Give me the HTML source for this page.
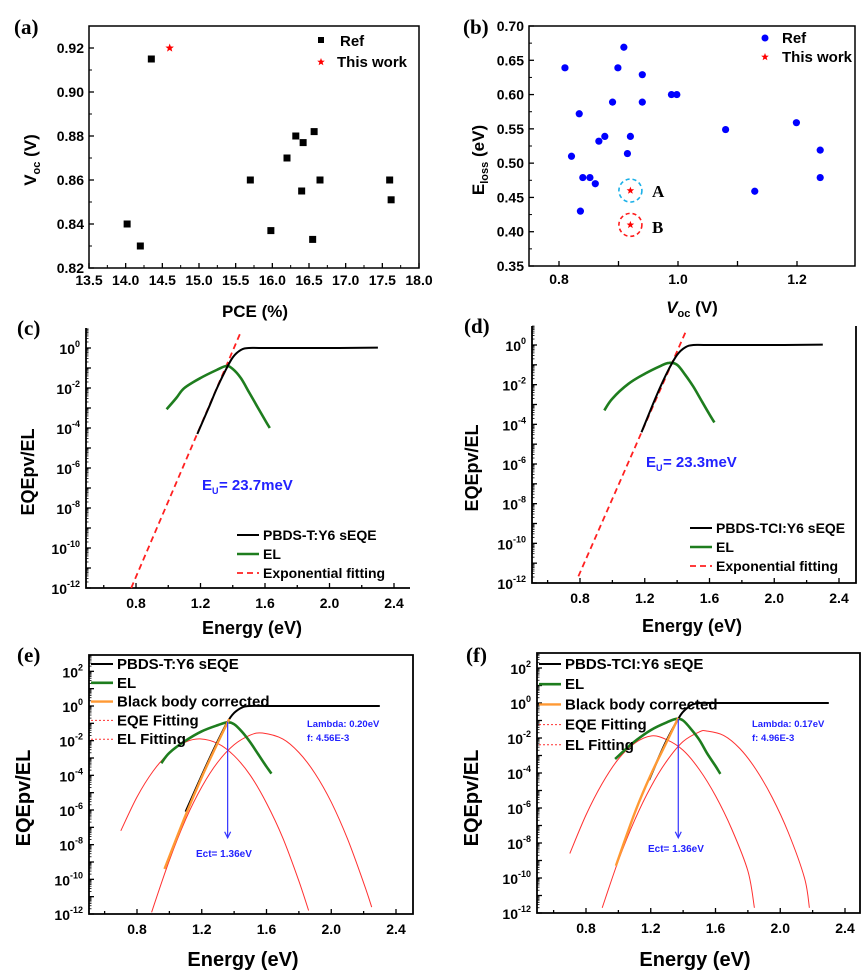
<!DOCTYPE html>
<html><head><meta charset="utf-8"><style>
html,body{margin:0;padding:0;background:#fff}
svg{display:block;font-family:"Liberation Sans",Arial,sans-serif}
</style></head><body>
<svg id="fig" width="865" height="971" viewBox="0 0 865 971" xmlns="http://www.w3.org/2000/svg"></svg>
<script>
// ---------- data: panel a ----------
const aPCE=[14.35,14.02,14.2,15.7,15.98,16.2,16.32,16.42,16.57,16.4,16.55,16.65,17.6,17.62];
const aVoc=[0.915,0.84,0.83,0.86,0.837,0.87,0.88,0.877,0.882,0.855,0.833,0.86,0.86,0.851];
const aStarPCE=[14.6];
const aStarVoc=[0.92];
const aXTicks=[13.5,14.0,14.5,15.0,15.5,16.0,16.5,17.0,17.5,18.0];
const aYTicks=[0.82,0.84,0.86,0.88,0.90,0.92];
// ---------- data: panel b ----------
const bVoc=[0.81,0.909,0.899,0.94,0.89,0.94,0.989,0.998,0.834,0.867,0.877,0.92,0.915,0.821,0.84,0.852,0.861,0.836,1.08,1.199,1.129,1.239,1.239];
const bEloss=[0.639,0.669,0.639,0.629,0.589,0.589,0.6,0.6,0.572,0.532,0.539,0.539,0.514,0.51,0.479,0.479,0.47,0.43,0.549,0.559,0.459,0.519,0.479];
const bStarVoc=[0.92,0.92];
const bStarEloss=[0.46,0.41];
const bXTicks=[0.8,1.0,1.2];
const bYTicks=[0.35,0.40,0.45,0.50,0.55,0.60,0.65,0.70];
// ---------- data: panels c-f (energy eV, log10 value) ----------
const eTicks=[0.8,1.2,1.6,2.0,2.4];
const cEqeE=[1.18,1.25,1.3,1.35,1.4,1.45,1.5,1.6,2.0,2.3];
const cEqeL=[-4.3,-3.0,-2.05,-1.2,-0.47,-0.1,0,0,0,0.02];
const cElE=[0.99,1.05,1.1,1.2,1.3,1.36,1.4,1.45,1.5,1.55,1.6,1.63];
const cElL=[-3.06,-2.5,-2.0,-1.5,-1.1,-0.9,-1.05,-1.5,-2.2,-2.9,-3.6,-4.0];
const cFitE=[0.77,1.45];
const cFitL=[-12.0,0.8];
const dEqeE=[1.18,1.25,1.3,1.35,1.4,1.45,1.5,1.6,2.0,2.3];
const dEqeL=[-4.4,-3.0,-2.05,-1.2,-0.5,-0.12,0,0,0,0.02];
const dElE=[0.95,1.0,1.1,1.2,1.3,1.35,1.4,1.45,1.5,1.55,1.6,1.63];
const dElL=[-3.3,-2.7,-1.95,-1.45,-1.05,-0.9,-1.0,-1.5,-2.1,-2.8,-3.5,-3.9];
const dFitE=[0.79,1.457];
const dFitL=[-11.66,0.75];
const eEqeE=[1.1,1.2,1.3,1.36,1.4,1.45,1.5,1.6,2.0,2.3];
const eEqeL=[-6.1,-4.0,-2.0,-0.9,-0.4,-0.08,0,0,0,0];
const eOrE=[0.97,1.1,1.2,1.3,1.37];
const eOrL=[-9.4,-6.3,-4.1,-2.1,-0.75];
const eElE=[0.95,1.0,1.1,1.2,1.3,1.36,1.4,1.45,1.5,1.55,1.6,1.63];
const eElL=[-3.3,-2.7,-2.0,-1.46,-1.1,-0.94,-1.05,-1.5,-2.1,-2.8,-3.5,-3.9];
const eElFitE=[0.7,0.8,0.9,1.0,1.1,1.19,1.3,1.4,1.5,1.6,1.7,1.8,1.86];
const eElFitL=[-7.2,-5.25,-3.75,-2.7,-2.08,-1.9,-2.17,-2.87,-4.0,-5.6,-7.6,-10.1,-11.8];
const eEqFitE=[0.89,1.0,1.1,1.2,1.3,1.4,1.5,1.575,1.7,1.8,1.9,2.0,2.1,2.2,2.25];
const eEqFitL=[-11.9,-8.9,-6.55,-4.67,-3.23,-2.24,-1.68,-1.56,-1.9,-2.68,-3.9,-5.55,-7.65,-10.2,-11.6];
const fEqeE=[1.19,1.25,1.3,1.37,1.4,1.45,1.5,1.6,2.0,2.3];
const fEqeL=[-4.4,-3.1,-2.1,-0.9,-0.5,-0.12,0,0,0,0];
const fOrE=[0.985,1.1,1.2,1.3,1.37];
const fOrL=[-9.3,-6.3,-4.1,-2.2,-0.85];
const fElE=[0.98,1.05,1.1,1.2,1.3,1.36,1.4,1.45,1.5,1.55,1.6,1.63];
const fElL=[-3.2,-2.6,-2.2,-1.55,-1.1,-0.9,-1.0,-1.5,-2.1,-2.9,-3.6,-4.05];
const fElFitE=[0.7,0.8,0.9,1.0,1.1,1.206,1.3,1.4,1.5,1.6,1.7,1.8,1.84];
const fElFitL=[-8.6,-6.4,-4.6,-3.2,-2.3,-1.88,-2.1,-2.7,-3.8,-5.3,-7.2,-9.6,-11.7];
const fEqFitE=[0.9,1.0,1.1,1.2,1.3,1.4,1.5,1.545,1.65,1.75,1.85,1.95,2.05,2.15,2.18];
const fEqFitL=[-11.7,-9.0,-6.7,-4.8,-3.3,-2.2,-1.65,-1.6,-1.85,-2.6,-3.8,-5.4,-7.4,-10.0,-11.7];

const NS='http://www.w3.org/2000/svg';
const svg=document.getElementById('fig');
function mk(tag,attrs,parent){const e=document.createElementNS(NS,tag);for(const k in attrs)e.setAttribute(k,attrs[k]);(parent||svg).appendChild(e);return e;}
function lin(d0,d1,r0,r1){return v=>r0+(v-d0)*(r1-r0)/(d1-d0);}
function starPts(cx,cy,r){let p=[];for(let i=0;i<10;i++){const a=-Math.PI/2+i*Math.PI/5;const rr=i%2?r*0.42:r;p.push((cx+rr*Math.cos(a)).toFixed(1)+','+(cy+rr*Math.sin(a)).toFixed(1));}return p.join(' ');}
function smoothPath(pts){
  if(pts.length<3)return pts.map((p,i)=>(i?'L':'M')+p[0].toFixed(1)+','+p[1].toFixed(1)).join('');
  let d='M'+pts[0][0].toFixed(1)+','+pts[0][1].toFixed(1);
  for(let i=0;i<pts.length-1;i++){
    const p0=pts[Math.max(0,i-1)],p1=pts[i],p2=pts[i+1],p3=pts[Math.min(pts.length-1,i+2)];
    const c1=[p1[0]+(p2[0]-p0[0])/6,p1[1]+(p2[1]-p0[1])/6];
    const c2=[p2[0]-(p3[0]-p1[0])/6,p2[1]-(p3[1]-p1[1])/6];
    d+='C'+c1[0].toFixed(1)+','+c1[1].toFixed(1)+' '+c2[0].toFixed(1)+','+c2[1].toFixed(1)+' '+p2[0].toFixed(1)+','+p2[1].toFixed(1);
  }
  return d;
}

function label(txt,x,y,size,name,extra){
  const t=mk('text',Object.assign({x:x,y:y,'font-size':size,'font-weight':'bold',fill:'#000'},extra||{}));
  t.textContent=txt;
  
  
  return t;
}
function panelLetter(txt,x,y){
  const t=mk('text',{x:x,y:y,'font-size':21,'font-weight':'bold','font-family':'"Liberation Serif",serif'});
  t.textContent=txt;
  
  
}

// ---------- Panel a ----------
(function(){
  const g=mk('g',{});
  
  
  const X=lin(13.5,18.0,89,419), Y=lin(0.82,0.92,268,48);
  const fr=mk('rect',{x:89,y:26,width:330,height:242,fill:'none',stroke:'#000','stroke-width':1.5},g);
  
  
  aXTicks.forEach((v,i)=>{
    const tk=mk('line',{x1:X(v),x2:X(v),y1:268,y2:263,stroke:'#000','stroke-width':1.3},g);
    
    
    if(i<aXTicks.length-1){const m=mk('line',{x1:X(v+0.25),x2:X(v+0.25),y1:268,y2:265,stroke:'#000'},g);
      
      }
    label(v.toFixed(1),X(v),285,14,'x-tick-label',{'text-anchor':'middle'});
  });
  aYTicks.forEach((v,i)=>{
    const tk=mk('line',{x1:89,x2:94,y1:Y(v),y2:Y(v),stroke:'#000','stroke-width':1.3},g);
    
    
    const m=mk('line',{x1:89,x2:92,y1:Y(v+0.01),y2:Y(v+0.01),stroke:'#000'},g);
    
    
    label(v.toFixed(2),84,Y(v)+5,14,'y-tick-label',{'text-anchor':'end'});
  });
  aPCE.forEach((v,i)=>{
    const r=mk('rect',{x:X(v)-3.5,y:Y(aVoc[i])-3.5,width:7,height:7,fill:'#000'},g);
    
    
  });
  aStarPCE.forEach((v,i)=>{
    const s=mk('polygon',{points:starPts(X(v),Y(aStarVoc[i]),4.5),fill:'#f00'},g);
    
    
  });
  const l1=mk('rect',{x:318,y:37,width:6,height:6,fill:'#000'},g);
  
  
  label('Ref',340,46,15,'legend-ref');
  const l2=mk('polygon',{points:starPts(321,62,4),fill:'#f00'},g);
  
  
  label('This work',337,67,15,'legend-this-work');
  label('PCE (%)',255,317,17,'x-axis-title',{'text-anchor':'middle'});
  const yt=mk('text',{transform:'translate(36,160) rotate(-90)','font-size':17,'font-weight':'bold','text-anchor':'middle'});
  yt.innerHTML='V<tspan font-size="11" dy="4">oc</tspan><tspan dy="-4"> (V)</tspan>';
  
  
  panelLetter('(a)',14,34);
})();

// ---------- Panel b ----------
(function(){
  const g=mk('g',{});
  
  
  const X=lin(0.8,1.0,559,678), Y=lin(0.35,0.70,266,26);
  const fr=mk('rect',{x:529,y:26,width:326,height:240,fill:'none',stroke:'#000','stroke-width':1.5},g);
  
  
  [0.8,0.9,1.0,1.1,1.2].forEach(v=>{
    const tk=mk('line',{x1:X(v),x2:X(v),y1:266,y2:261,stroke:'#000','stroke-width':1.3},g);
    
    
  });
  bXTicks.forEach(v=>label(v.toFixed(1),X(v),284,14,'x-tick-label',{'text-anchor':'middle'}));
  bYTicks.forEach(v=>{
    const tk=mk('line',{x1:529,x2:534,y1:Y(v),y2:Y(v),stroke:'#000','stroke-width':1.3},g);
    
    
    if(v<0.7){const m=mk('line',{x1:529,x2:532,y1:Y(v+0.025),y2:Y(v+0.025),stroke:'#000'},g);
      
      }
    label(v.toFixed(2),524,Y(v)+5,14,'y-tick-label',{'text-anchor':'end'});
  });
  bVoc.forEach((v,i)=>{
    const c=mk('circle',{cx:X(v),cy:Y(bEloss[i]),r:3.6,fill:'#0000ff'},g);
    
    
  });
  const ringCol=['#1ab0e8','#ff1a1a'];
  bStarVoc.forEach((v,i)=>{
    const rc=mk('circle',{cx:X(v),cy:Y(bStarEloss[i]),r:11.5,fill:'none',stroke:ringCol[i],'stroke-width':1.6,'stroke-dasharray':'4,3'},g);
    
    
    const s=mk('polygon',{points:starPts(X(v),Y(bStarEloss[i]),4),fill:'#f00'},g);
    
    
  });
  label('A',652,197,17,'annotation-a',{'font-family':'"Liberation Serif",serif'});
  label('B',652,233,17,'annotation-b',{'font-family':'"Liberation Serif",serif'});
  const l1=mk('circle',{cx:765,cy:38,r:3.5,fill:'#0000ff'},g);
  
  
  label('Ref',782,43,15,'legend-ref');
  const l2=mk('polygon',{points:starPts(765,57,4),fill:'#f00'},g);
  
  
  label('This work',782,62,15,'legend-this-work');
  const xt=mk('text',{x:692,y:313,'font-size':17,'font-weight':'bold','text-anchor':'middle'});
  xt.innerHTML='<tspan font-style="italic">V</tspan><tspan font-size="11" dy="4">oc</tspan><tspan dy="-4"> (V)</tspan>';
  
  
  const yt=mk('text',{transform:'translate(484,160) rotate(-90)','font-size':17,'font-weight':'bold','text-anchor':'middle'});
  yt.innerHTML='E<tspan font-size="11" dy="4">loss</tspan><tspan dy="-4"> (eV)</tspan>';
  
  
  panelLetter('(b)',463,34);
})();

// ---------- Log panels ----------
function logPanel(cfg){
  const g=mk('g',{});
  
  
  const X=lin(0.8,2.4,cfg.x08,cfg.x24), Y=lin(0,-12,cfg.y0,cfg.y12);
  const ax=mk('path',{d:cfg.box?`M${cfg.left},${cfg.top}H${cfg.right}V${cfg.y12}H${cfg.left}Z`:(cfg.rightLine?`M${cfg.left},${cfg.top}V${cfg.y12}H${cfg.right}V${cfg.top}`:`M${cfg.left},${cfg.top}V${cfg.y12}H${cfg.right}`),fill:'none',stroke:'#000','stroke-width':1.8},g);
  
  
  for(let v=0.6;v<=2.41;v+=0.2){
    const major=eTicks.some(t=>Math.abs(t-v)<1e-6);
    const tk=mk('line',{x1:X(v),x2:X(v),y1:cfg.y12,y2:cfg.y12-(major?5:3),stroke:'#000','stroke-width':1.3},g);
    
    
  }
  eTicks.forEach(v=>label(v.toFixed(1),X(v),cfg.y12+20,14,'x-tick-label',{'text-anchor':'middle'}));
  for(let d=-12;d<=cfg.maxDec;d++){
    const tk=mk('line',{x1:cfg.left,x2:cfg.left+5,y1:Y(d),y2:Y(d),stroke:'#000','stroke-width':1.3},g);
    
    
    for(let k=2;k<10;k++){const yy=Y(d+Math.log10(k));if(yy<cfg.top)break;
      const m=mk('line',{x1:cfg.left,x2:cfg.left+2.5,y1:yy,y2:yy,stroke:'#000','stroke-width':0.8},g);
      
      }
    if(d%2===0&&d<=cfg.maxLab){
      const t=mk('text',{x:cfg.left-6,y:Y(d)+6,'font-size':14,'font-weight':'bold','text-anchor':'end'},g);
      t.innerHTML='10<tspan font-size="9" dy="-7">'+d+'</tspan>';
      
      
    }
  }
  function curve(Es,Ls,style,name){
    const pts=Es.map((e,i)=>[X(e),Y(Ls[i])]);
    const p=mk('path',Object.assign({d:smoothPath(pts),fill:'none','stroke-linejoin':'round'},style),g);
    
    
  }
  cfg.series.forEach(s=>curve(s.E,s.L,s.style,s.name));
  if(cfg.arrow){
    const a=mk('line',{x1:X(cfg.arrow[0]),x2:X(cfg.arrow[0]),y1:Y(cfg.arrow[1]),y2:Y(cfg.arrow[2]),stroke:'#3333ff','stroke-width':1.2},g);
    
    
    const ah=mk('path',{d:`M${X(cfg.arrow[0])-3},${Y(cfg.arrow[2])-6}L${X(cfg.arrow[0])},${Y(cfg.arrow[2])}L${X(cfg.arrow[0])+3},${Y(cfg.arrow[2])-6}`,fill:'none',stroke:'#3333ff','stroke-width':1.2},g);
    
    
  }
  cfg.legend.forEach((it,i)=>{
    const y=cfg.legY+i*cfg.legDy;
    const ln=mk('line',Object.assign({x1:cfg.legX,x2:cfg.legX+22,y1:y,y2:y},it.style),g);
    
    
    label(it.text,cfg.legX+26,y+5,cfg.legFont,'legend-entry');
  });
  label('Energy (eV)',cfg.xTitleX,cfg.xTitleY,cfg.titleFont,'x-axis-title',{'text-anchor':'middle'});
  const yt=mk('text',{transform:`translate(${cfg.yTitleX},${cfg.yTitleY}) rotate(-90)`,'font-size':cfg.titleFont,'font-weight':'bold','text-anchor':'middle'});
  yt.textContent='EQEpv/EL';
  
  
  panelLetter(cfg.letter,cfg.letterX,cfg.letterY);
}
const BLK={stroke:'#000','stroke-width':2};
const GRN={stroke:'#1e7d1e','stroke-width':2.6};
const RDASH={stroke:'#ff2020','stroke-width':1.8,'stroke-dasharray':'6,4'};
const RTHIN={stroke:'#ff3030','stroke-width':1};
const RDOT={stroke:'#ff3030','stroke-width':1,'stroke-dasharray':'2,2'};
const ORG={stroke:'#ff9933','stroke-width':2.4};

logPanel({name:'panel-c-urbach',left:86,right:410,top:328,x08:136,x24:394,y0:348,y12:588,maxDec:0,maxLab:0,box:false,
  series:[{E:cFitE,L:cFitL,style:RDASH,name:'exponential-fit-line'},{E:cElE,L:cElL,style:GRN,name:'el-line'},{E:cEqeE,L:cEqeL,style:BLK,name:'seqe-line'}],
  legend:[{text:'PBDS-T:Y6 sEQE',style:BLK},{text:'EL',style:GRN},{text:'Exponential fitting',style:RDASH}],
  legX:237,legY:535,legDy:19,legFont:14,titleFont:18,xTitleX:252,xTitleY:634,yTitleX:34,yTitleY:472,letter:'(c)',letterX:17,letterY:335});
label('E',202,490,15,'urbach-energy-label',{fill:'#2222ff'});
label('U',212,494,9,'urbach-subscript',{fill:'#2222ff'});
label('= 23.7meV',219,490,15,'urbach-energy-value',{fill:'#2222ff'});

logPanel({name:'panel-d-urbach',left:532,right:856,top:326,x08:580,x24:839,y0:345,y12:583,maxDec:0,maxLab:0,box:false,rightLine:true,
  series:[{E:dFitE,L:dFitL,style:RDASH,name:'exponential-fit-line'},{E:dElE,L:dElL,style:GRN,name:'el-line'},{E:dEqeE,L:dEqeL,style:BLK,name:'seqe-line'}],
  legend:[{text:'PBDS-TCI:Y6 sEQE',style:BLK},{text:'EL',style:GRN},{text:'Exponential fitting',style:RDASH}],
  legX:690,legY:528,legDy:19,legFont:14,titleFont:18,xTitleX:692,xTitleY:632,yTitleX:478,yTitleY:468,letter:'(d)',letterX:464,letterY:333});
label('E',646,467,15,'urbach-energy-label',{fill:'#2222ff'});
label('U',656,471,9,'urbach-subscript',{fill:'#2222ff'});
label('= 23.3meV',663,467,15,'urbach-energy-value',{fill:'#2222ff'});

logPanel({name:'panel-e-marcus',left:89,right:413,top:655,x08:137,x24:396,y0:706,y12:914,maxDec:2,maxLab:2,box:true,arrow:[1.36,-0.9,-7.6],
  series:[{E:eElFitE,L:eElFitL,style:RTHIN,name:'el-fitting-line'},{E:eEqFitE,L:eEqFitL,style:RTHIN,name:'eqe-fitting-line'},{E:eElE,L:eElL,style:GRN,name:'el-line'},{E:eEqeE,L:eEqeL,style:BLK,name:'seqe-line'},{E:eOrE,L:eOrL,style:ORG,name:'black-body-corrected-line'}],
  legend:[{text:'PBDS-T:Y6 sEQE',style:BLK},{text:'EL',style:GRN},{text:'Black body corrected',style:ORG},{text:'EQE Fitting',style:RDOT},{text:'EL Fitting',style:RDOT}],
  legX:91,legY:664,legDy:18.8,legFont:15,titleFont:20,xTitleX:243,xTitleY:966,yTitleX:30,yTitleY:798,letter:'(e)',letterX:17,letterY:662});
label('Lambda: 0.20eV',307,727,9.5,'lambda-annotation',{fill:'#2222ff'});
label('f: 4.56E-3',307,741,9.5,'f-annotation',{fill:'#2222ff'});
label('Ect= 1.36eV',196,857,10,'ect-annotation',{fill:'#2222ff'});

logPanel({name:'panel-f-marcus',left:537,right:860,top:653,x08:586,x24:845,y0:703,y12:913,maxDec:2,maxLab:2,box:true,arrow:[1.37,-0.9,-7.7],
  series:[{E:fElFitE,L:fElFitL,style:RTHIN,name:'el-fitting-line'},{E:fEqFitE,L:fEqFitL,style:RTHIN,name:'eqe-fitting-line'},{E:fElE,L:fElL,style:GRN,name:'el-line'},{E:fEqeE,L:fEqeL,style:BLK,name:'seqe-line'},{E:fOrE,L:fOrL,style:ORG,name:'black-body-corrected-line'}],
  legend:[{text:'PBDS-TCI:Y6 sEQE',style:BLK},{text:'EL',style:GRN},{text:'Black body corrected',style:ORG},{text:'EQE Fitting',style:RDOT},{text:'EL Fitting',style:RDOT}],
  legX:539,legY:664,legDy:20.2,legFont:15,titleFont:20,xTitleX:695,xTitleY:966,yTitleX:478,yTitleY:798,letter:'(f)',letterX:466,letterY:662});
label('Lambda: 0.17eV',752,727,9.5,'lambda-annotation',{fill:'#2222ff'});
label('f: 4.96E-3',752,741,9.5,'f-annotation',{fill:'#2222ff'});
label('Ect= 1.36eV',648,852,10,'ect-annotation',{fill:'#2222ff'});
</script>
</body></html>
